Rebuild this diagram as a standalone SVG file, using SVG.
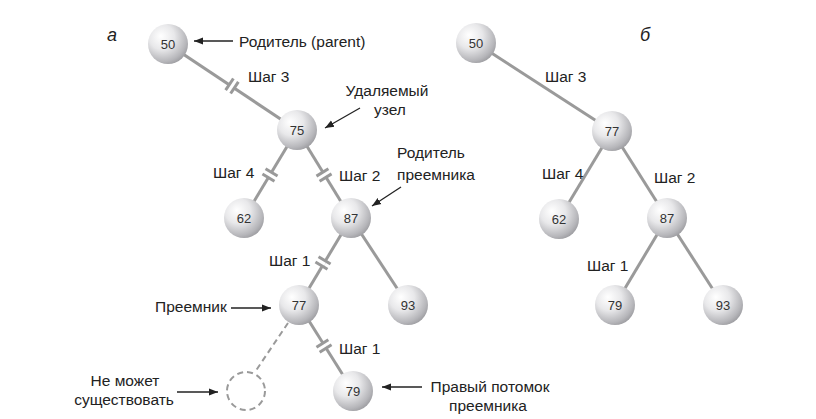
<svg xmlns="http://www.w3.org/2000/svg" width="816" height="419" viewBox="0 0 816 419">
<defs>
<radialGradient id="ball" cx="0.38" cy="0.35" r="0.7" fx="0.32" fy="0.3">
<stop offset="0" stop-color="#ffffff"/>
<stop offset="0.45" stop-color="#e8e8ea"/>
<stop offset="0.85" stop-color="#b6b6ba"/>
<stop offset="1" stop-color="#9c9ca0"/>
</radialGradient>
<marker id="ah" viewBox="0 0 10 10" refX="10" refY="5" markerWidth="9" markerHeight="9" markerUnits="userSpaceOnUse" orient="auto">
<path d="M0,1 L10,5 L0,9 Z" fill="#222"/>
</marker>
<g id="brk">
<line x1="-3.5" y1="0" x2="3.5" y2="0" stroke="#fff" stroke-width="5"/>
<line x1="-3" y1="-7" x2="-3" y2="7" stroke="#999" stroke-width="3"/>
<line x1="3" y1="-7" x2="3" y2="7" stroke="#999" stroke-width="3"/>
</g>
</defs>
<style>
.e{stroke:#9a9a9a;stroke-width:3;fill:none}
.n circle{fill:url(#ball)}
.n text{font-family:"Liberation Sans",Arial,sans-serif;font-size:13px;fill:#333;text-anchor:middle}
.t{font-family:"Liberation Sans",Arial,sans-serif;font-size:15.5px;fill:#222}
.c{text-anchor:middle}
.a{stroke:#222;stroke-width:1.3;marker-end:url(#ah)}
.lt{font-family:"Liberation Sans",Arial,sans-serif;font-size:18px;font-style:italic;fill:#222}
</style>
<rect width="816" height="419" fill="#fff"/>
<g id="connectors">
<line class="e" x1="168" y1="44" x2="297" y2="130"/>
<line class="e" x1="297" y1="130" x2="244" y2="218"/>
<line class="e" x1="297" y1="130" x2="351" y2="218"/>
<line class="e" x1="351" y1="218" x2="299" y2="305"/>
<line class="e" x1="351" y1="218" x2="408" y2="305"/>
<line class="e" x1="299" y1="305" x2="353" y2="391"/>
<line x1="288" y1="323" x2="255" y2="372" stroke="#9a9a9a" stroke-width="2" stroke-dasharray="6,4"/>
<use href="#brk" transform="translate(232,86) rotate(33.7)"/>
<use href="#brk" transform="translate(270,175) rotate(121)"/>
<use href="#brk" transform="translate(324,175) rotate(58.5)"/>
<use href="#brk" transform="translate(323,263) rotate(121)"/>
<use href="#brk" transform="translate(324,346) rotate(57.9)"/>
<line class="e" x1="476" y1="43" x2="612" y2="131"/>
<line class="e" x1="612" y1="131" x2="559" y2="219"/>
<line class="e" x1="612" y1="131" x2="667" y2="218"/>
<line class="e" x1="667" y1="218" x2="615" y2="305"/>
<line class="e" x1="667" y1="218" x2="723" y2="305"/>
</g>
<g id="nodes-a">
<g id="a50" class="n"><circle cx="168" cy="44" r="20"/><text x="168" y="49">50</text></g>
<g id="a75" class="n"><circle cx="297" cy="130" r="20"/><text x="297" y="135">75</text></g>
<g id="a62" class="n"><circle cx="244" cy="218" r="20"/><text x="244" y="223">62</text></g>
<g id="a87" class="n"><circle cx="351" cy="218" r="20"/><text x="351" y="223">87</text></g>
<g id="a77" class="n"><circle cx="299" cy="305" r="20"/><text x="299" y="310">77</text></g>
<g id="a93" class="n"><circle cx="408" cy="305" r="20"/><text x="408" y="310">93</text></g>
<g id="a79" class="n"><circle cx="353" cy="391" r="20"/><text x="353" y="396">79</text></g>
<g id="aNone"><circle cx="246" cy="391" r="19" fill="none" stroke="#9a9a9a" stroke-width="2" stroke-dasharray="6,4"/></g>
</g>
<g id="nodes-b">
<g id="b50" class="n"><circle cx="476" cy="43" r="20"/><text x="476" y="48">50</text></g>
<g id="b77" class="n"><circle cx="612" cy="131" r="20"/><text x="612" y="136">77</text></g>
<g id="b62" class="n"><circle cx="559" cy="219" r="20"/><text x="559" y="224">62</text></g>
<g id="b87" class="n"><circle cx="667" cy="218" r="20"/><text x="667" y="223">87</text></g>
<g id="b79" class="n"><circle cx="615" cy="305" r="20"/><text x="615" y="310">79</text></g>
<g id="b93" class="n"><circle cx="723" cy="305" r="20"/><text x="723" y="310">93</text></g>
</g>
<g id="labels">
<text class="lt" x="112" y="41" text-anchor="middle">а</text>
<text class="lt" x="645" y="41" text-anchor="middle">б</text>
<line class="a" x1="233" y1="41" x2="194" y2="41"/>
<text class="t" x="239" y="47">Родитель (parent)</text>
<text class="t" x="248" y="82">Шаг 3</text>
<text class="t c" x="387" y="96">Удаляемый</text>
<text class="t c" x="390" y="115">узел</text>
<line class="a" x1="360" y1="108" x2="325" y2="128"/>
<text class="t" x="213" y="178">Шаг 4</text>
<text class="t" x="339" y="181">Шаг 2</text>
<text class="t c" x="431" y="158">Родитель</text>
<text class="t c" x="436" y="180">преемника</text>
<line class="a" x1="401" y1="187" x2="372" y2="206"/>
<text class="t" x="269" y="266">Шаг 1</text>
<text class="t" x="155" y="312">Преемник</text>
<line class="a" x1="231" y1="308" x2="271" y2="308"/>
<text class="t" x="339" y="354">Шаг 1</text>
<text class="t c" x="125" y="386">Не может</text>
<text class="t c" x="124" y="405">существовать</text>
<line class="a" x1="177" y1="392" x2="218" y2="392"/>
<line class="a" x1="422" y1="387" x2="382" y2="387"/>
<text class="t c" x="490" y="392">Правый потомок</text>
<text class="t c" x="488" y="411">преемника</text>
<text class="t" x="545" y="82">Шаг 3</text>
<text class="t" x="542" y="179">Шаг 4</text>
<text class="t" x="654" y="183">Шаг 2</text>
<text class="t" x="587" y="271">Шаг 1</text>
</g>
</svg>
